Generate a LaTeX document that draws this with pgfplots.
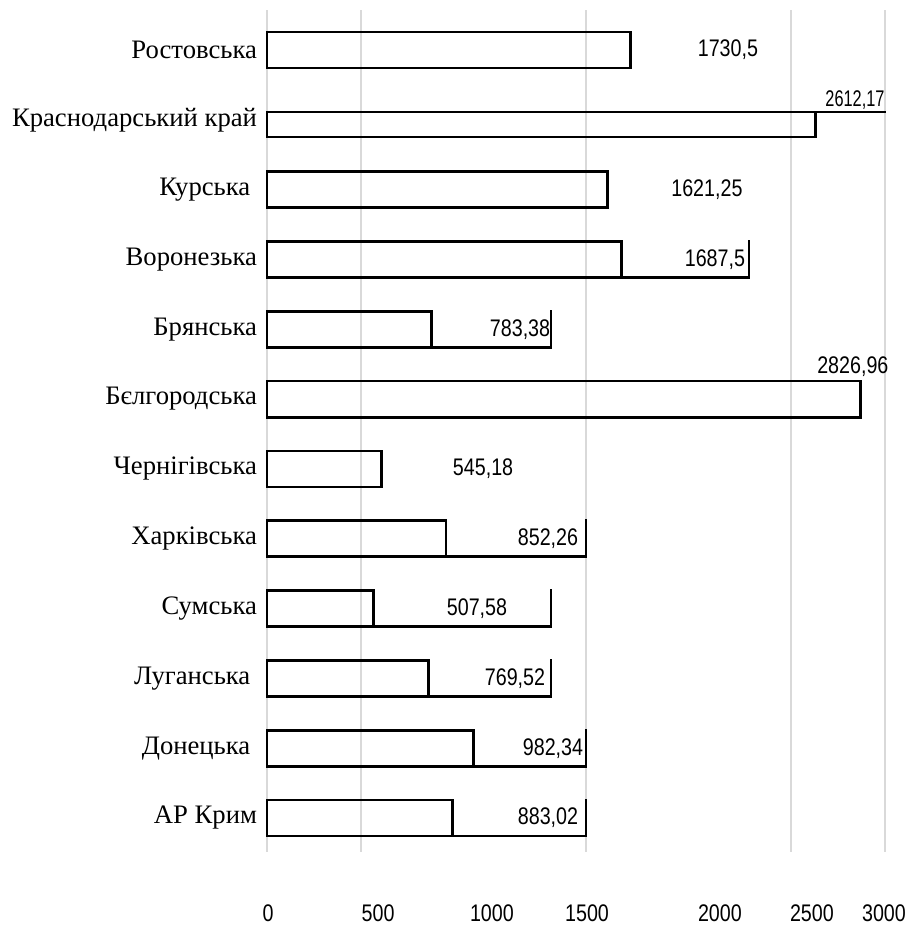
\documentclass[border=0pt]{standalone}
\usepackage{fontspec}
\setmainfont{Liberation Serif}
\newfontfamily\numfont[FakeStretch=0.82]{Liberation Sans}
\newfontfamily\narrowerfont[FakeStretch=0.72]{Liberation Sans}
\usepackage{pgfplots}
\pgfplotsset{compat=1.18}
\definecolor{gridgrey}{HTML}{D9D9D9}
\begin{document}
\begin{tikzpicture}
\useasboundingbox (-200.25pt,-63pt) rectangle (484.5pt,639pt);
\begin{axis}[
  at={(0,0)}, anchor=south west,
  scale only axis, width=463.5pt, height=631.5pt,
  xmin=0, xmax=2943, ymin=-0.573, ymax=11.487, y dir=reverse,
  enlargelimits=false, clip=false,
  axis line style={draw=none},
  major tick length=0pt, tick style={draw=none},
  ytick={0,1,2,3,4,5,6,7,8,9,10,11},
  yticklabels={Ростовська, Краснодарський край, Курська\kern0.25em, Воронезька, Брянська, Бєлгородська, Чернігівська, Харківська, Сумська, Луганська\kern0.25em, Донецька\kern0.25em, АР Крим},
  yticklabel style={font=\fontsize{20pt}{22pt}\selectfont, xshift=-4pt},
  xtick={5,529,1071,1524,2157,2595,2938},
  xticklabels={0,500,1000,1500,2000,2500,3000},
  xticklabel style={font=\numfont\fontsize{18pt}{20pt}\selectfont, yshift=-36pt},
  /pgf/number format/assume math mode=true,
  extra x ticks={0,448,1519,2495,2943},
  extra x tick labels={},
  extra x tick style={grid=major},
  major grid style={draw=gridgrey, line width=1.6pt},
]
% main bars
\addplot[xbar, bar shift=0pt, bar width=0.516, draw=black, line width=2.1pt, fill=none, line join=miter]
coordinates {(1730.5,0) (1621.25,2) (1687.5,3) (783.38,4) (2826.96,5)
 (545.18,6) (852.26,7) (507.58,8) (769.52,9) (982.34,10) (883.02,11)};
% Krasnodar bar (thinner in the original)
\addplot[xbar, bar shift=0pt, bar width=0.358, draw=black, line width=2.1pt, fill=none, line join=miter]
coordinates {(2612.17,1.067)};
% open frames around the value labels
\addplot[draw=black, line width=2.1pt, mark=none, unbounded coords=jump, line join=miter, line cap=rect]
coordinates {
 (2612.17,0.888) (2943,0.888) (nan,nan)
 (1687.5,3.258) (2295,3.258) (2295,2.742) (nan,nan)
 (783.38,4.258) (1352,4.258) (1352,3.742) (nan,nan)
 (852.26,7.258) (1519,7.258) (1519,6.742) (nan,nan)
 (507.58,8.258) (1352,8.258) (1352,7.742) (nan,nan)
 (769.52,9.258) (1352,9.258) (1352,8.742) (nan,nan)
 (982.34,10.258) (1519,10.258) (1519,9.742) (nan,nan)
 (883.02,11.258) (1519,11.258) (1519,10.742)
};
% value labels
\addplot[only marks, mark=*, mark size=0.01pt, mark options={opacity=0},
  nodes near coords, point meta=explicit symbolic,
  nodes near coords style={font=\numfont\fontsize{18pt}{20pt}\selectfont, anchor=center, inner sep=0pt, text=black, opacity=1}]
coordinates {
 (2195,0) [{1730,5}]
 (2800,0.716) [{\narrowerfont\fontsize{17pt}{19pt}\selectfont 2612,17}]
 (2095,2) [{1621,25}]
 (2133,3) [{1687,5}]
 (1205,4) [{783,38}]
 (2790,4.53) [{2826,96}]
 (1029,6) [{545,18}]
 (1338,7) [{852,26}]
 (1000,8) [{507,58}]
 (1181,9) [{769,52}]
 (1362,10) [{982,34}]
 (1338,11) [{883,02}]
};
\end{axis}
\end{tikzpicture}
\end{document}
